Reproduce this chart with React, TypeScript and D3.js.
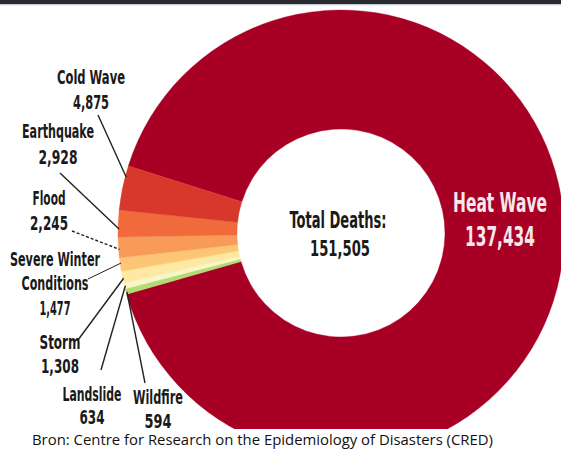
import React from "react";
import * as d3 from "d3";

// ---- data ----
const categories = ["Heat Wave", "Wildfire", "Landslide", "Storm", "Severe Winter Conditions", "Flood", "Earthquake", "Cold Wave"];
const deaths = [137434, 594, 634, 1308, 1477, 2245, 2928, 4875];
const totalDeaths = 151505;
const colors = ["#a80024", "#b3da74", "#f7f6c6", "#fde9a4", "#fcc676", "#f89b58", "#f06a3c", "#d7382b"];
const totalLabel = "Total Deaths:";
const sourceText = "Bron: Centre for Research on the Epidemiology of Disasters (CRED)";

// ---- layout (annotation placement) ----
type Lab = { name: string; lines: string[]; x: number; ys: number[]; ws: number[]; from: [number, number]; t: number; dashed?: boolean; thin?: boolean };
const labelLayout: Lab[] = [
  { name: "Cold Wave", lines: ["Cold Wave"], x: 91, ys: [84, 109], ws: [68, 36], from: [98, 115], t: 0.75 },
  { name: "Earthquake", lines: ["Earthquake"], x: 58, ys: [138, 164], ws: [72, 39], from: [60, 173], t: 0.3 },
  { name: "Flood", lines: ["Flood"], x: 49, ys: [205, 230], ws: [33, 38], from: [72, 231], t: 0.4, dashed: true },
  { name: "Severe Winter Conditions", lines: ["Severe Winter", "Conditions"], x: 55, ys: [266, 290, 315], ws: [90, 67, 31], from: [88, 279], t: 0.6, thin: true },
  { name: "Storm", lines: ["Storm"], x: 60, ys: [349, 373], ws: [41, 38], from: [78, 340], t: 0.4 },
  { name: "Landslide", lines: ["Landslide"], x: 92, ys: [401, 424], ws: [59, 25], from: [101, 370], t: 0.5 },
  { name: "Wildfire", lines: ["Wildfire"], x: 158, ys: [404, 428], ws: [50, 27], from: [145, 383], t: 0.4 },
];

const W = 561, H = 450;
const cx = 341, cy = 233, rOuter = 223, rInner = 104;
const condensed = "'Liberation Sans Narrow', 'DejaVu Sans Condensed', 'Roboto Condensed', sans-serif";

export default function App() {
  const fmt = d3.format(",");
  const endA = (287.5 / 180) * Math.PI;
  const startA = endA - 2 * Math.PI;
  const pie = d3.pie<number>().sort(null).startAngle(startA).endAngle(endA);
  const arcs = pie(deaths);
  const arcGen = d3.arc<d3.PieArcDatum<number>>().innerRadius(rInner).outerRadius(rOuter);

  return (
    <div style={{ position: "fixed", left: 0, top: 0, width: W, height: H, background: "#fff" }}>
      <svg width={W} height={H} style={{ display: "block" }}>
        <rect x={0} y={0} width={W} height={H} fill="#fff" />
        <g transform={`translate(${cx},${cy})`}>
          {arcs.map((a, i) => (
            <path key={i} d={arcGen(a) || ""} fill={colors[i]} stroke={colors[i]} strokeWidth={0.4} />
          ))}
        </g>
        {/* center labels */}
        <text x={338} y={228} textAnchor="middle" fontFamily={condensed} fontWeight="bold" fontSize={23} fill="#1a1a1a" textLength={97} lengthAdjust="spacingAndGlyphs">{totalLabel}</text>
        <text x={340} y={256} textAnchor="middle" fontFamily={condensed} fontWeight="bold" fontSize={22} fill="#1a1a1a" textLength={60} lengthAdjust="spacingAndGlyphs">{fmt(totalDeaths)}</text>
        {/* heat wave */}
        <text x={500} y={212} textAnchor="middle" fontFamily={condensed} fontWeight="bold" fontSize={27} fill="#f6e8ec" textLength={94} lengthAdjust="spacingAndGlyphs">{categories[0]}</text>
        <text x={500} y={246} textAnchor="middle" fontFamily={condensed} fontWeight="bold" fontSize={26} fill="#f6e8ec" textLength={70} lengthAdjust="spacingAndGlyphs">{fmt(deaths[0])}</text>
        {/* small labels */}
        {labelLayout.map((L) => {
          const i = categories.indexOf(L.name);
          const a = arcs[i];
          const ang = a.startAngle + (a.endAngle - a.startAngle) * L.t;
          const ex = cx + Math.sin(ang) * (rOuter - 1);
          const ey = cy - Math.cos(ang) * (rOuter - 1);
          const texts = [...L.lines, fmt(deaths[i])];
          return (
            <g key={L.name}>
              <line x1={L.from[0]} y1={L.from[1]} x2={ex} y2={ey} stroke="#222" strokeWidth={L.thin ? 1 : 1.4} strokeDasharray={L.dashed ? "3,2" : undefined} />
              {texts.map((t, k) => (
                <text key={k} x={L.x} y={L.ys[k]} textAnchor="middle" fontFamily={condensed} fontWeight="bold" fontSize={20} fill="#1a1a1a" textLength={L.ws[k]} lengthAdjust="spacingAndGlyphs">{t}</text>
              ))}
            </g>
          );
        })}
        {/* source band */}
        <rect x={0} y={429} width={W} height={H - 429} fill="#fff" />
        <text x={32} y={445} fontFamily="'Open Sans', 'Liberation Sans', sans-serif" fontSize={15} fill="#111" textLength={461} lengthAdjust="spacingAndGlyphs">{sourceText}</text>
        {/* top dark band */}
        <rect x={0} y={0} width={W} height={4} fill="#2a2a31" />
        <rect x={0} y={4} width={W} height={1.2} fill="#c3c7d2" />
      </svg>
    </div>
  );
}
